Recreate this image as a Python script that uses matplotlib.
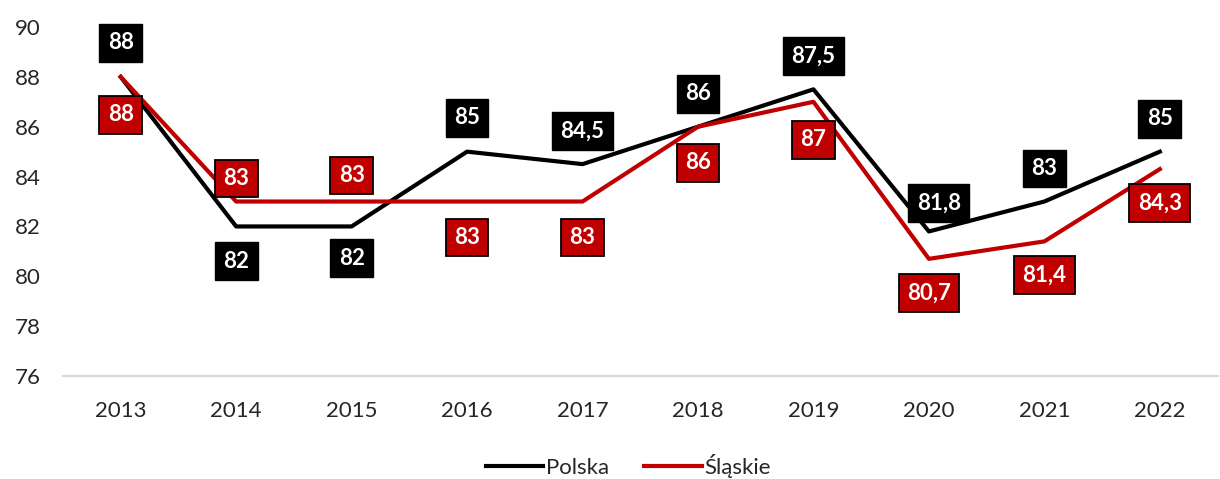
import matplotlib
matplotlib.use("Agg")
import matplotlib.pyplot as plt

plt.rcParams["font.family"] = ["Lato", "DejaVu Sans"]

YEARS = ["2013", "2014", "2015", "2016", "2017", "2018", "2019", "2020", "2021", "2022"]
POLSKA = [88, 82, 82, 85, 84.5, 86, 87.5, 81.8, 83, 85]
SLASKIE = [88, 83, 83, 83, 83, 86, 87, 80.7, 81.4, 84.3]

BLACK = "#000000"
RED = "#C00000"
AXIS = "#D9D9D9"
TXT = "#262626"

# label offsets in pixels (dx, dy), positive dy = up
OFF_POL = [(0, 34), (0, -35), (0, -32), (0, 34), (0, 33), (0, 33), (0, 33), (10, 28), (0, 33), (0, 33)]
OFF_SLA = [(0, -38), (0, 23), (0, 26), (0, -36), (0, -36), (0, -36), (0, -38), (0, -34), (0, -34), (0, -34)]


def fmt(v):
    return f"{v:g}".replace(".", ",")


fig = plt.figure(figsize=(12.2, 4.79), dpi=100)
ax = fig.add_axes([0.0516, 0.215, 0.9464, 0.7286])

x = range(len(YEARS))
ax.plot(x, POLSKA, color=BLACK, lw=3, label="Polska", zorder=2)
ax.plot(x, SLASKIE, color=RED, lw=3, label="Śląskie", zorder=2)

for i, v in enumerate(POLSKA):
    ax.annotate(fmt(v), (i, v), xytext=OFF_POL[i], textcoords="offset pixels",
                ha="center", va="center", color="white", fontsize=16, fontweight="bold",
                bbox=dict(boxstyle="square,pad=0.38", fc=BLACK, ec=BLACK, lw=1), zorder=4)
for i, v in enumerate(SLASKIE):
    ax.annotate(fmt(v), (i, v), xytext=OFF_SLA[i], textcoords="offset pixels",
                ha="center", va="center", color="white", fontsize=16, fontweight="bold",
                bbox=dict(boxstyle="square,pad=0.38", fc=RED, ec=BLACK, lw=1.3), zorder=4)

ax.set_xlim(-0.5, len(YEARS) - 0.5)
ax.set_ylim(76, 90)
ax.set_yticks(range(76, 91, 2))
ax.set_xticks(list(x))
ax.set_xticklabels(YEARS)
ax.tick_params(axis="both", length=0, labelsize=16, colors=TXT)
ax.tick_params(axis="x", pad=18)
ax.tick_params(axis="y", pad=16)

for s in ["top", "right", "left"]:
    ax.spines[s].set_visible(False)
ax.spines["bottom"].set_color(AXIS)
ax.spines["bottom"].set_linewidth(1.5)

leg = fig.legend(loc="lower center", ncol=2, frameon=False, fontsize=16,
                 bbox_to_anchor=(0.515, -0.04), handlelength=2.6, handletextpad=0.1,
                 columnspacing=1.6)
for t in leg.get_texts():
    t.set_color(TXT)

fig.savefig("out.png", dpi=100)
